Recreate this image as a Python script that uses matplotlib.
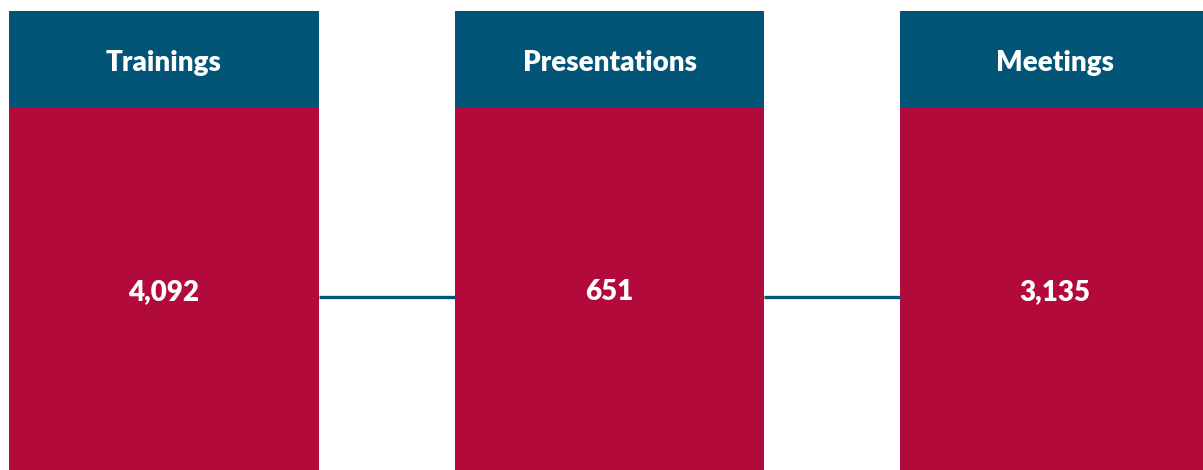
import matplotlib.pyplot as plt
import numpy as np

# data
categories = ["Trainings", "Presentations", "Meetings"]
counts = [4092, 651, 3135]

header_color = "#035577"
body_color = "#B20A3A"

fig = plt.figure(figsize=(12.03, 4.70), dpi=100)
ax = fig.add_axes([0, 0, 1, 1])

x = np.arange(len(categories))
width = 0.694
body_h = 362.5
head_h = 96.5

# red body + blue header stacked
ax.bar(x, [body_h] * len(x), width=width, color=body_color, linewidth=0)
ax.bar(x, [head_h] * len(x), width=width, bottom=body_h, color=header_color, linewidth=0)

# connectors between boxes
ax.hlines([173.5] * (len(x) - 1), x[:-1] + width / 2, x[1:] - width / 2,
          color=header_color, linewidth=2.4)

for i, (cat, n) in enumerate(zip(categories, counts)):
    ax.text(x[i], 407, cat, ha="center", va="center", color="white",
            fontsize=20, fontweight="heavy", family="Lato")
    ax.text(x[i], 178, f"{n:,}", ha="center", va="center", color="white",
            fontsize=20, fontweight="heavy", family="Lato")

ax.set_xlim(-0.368, 2.332)
ax.set_ylim(0, 470)
ax.axis("off")

fig.savefig("out.png", dpi=100, facecolor="white")
